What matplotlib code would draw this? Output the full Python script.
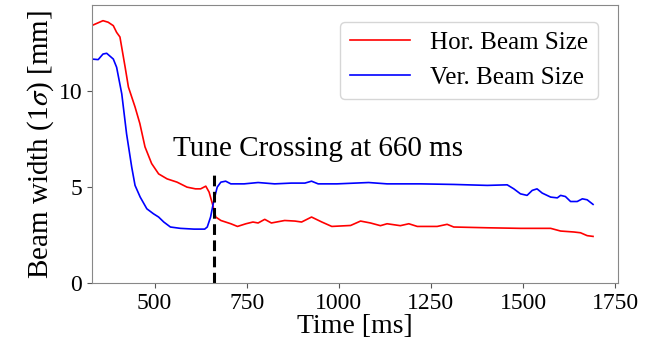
import numpy as np
import matplotlib.pyplot as plt

plt.rcParams['font.family'] = ['Liberation Serif', 'DejaVu Serif']
plt.rcParams['mathtext.fontset'] = 'stix'

# horizontal beam size (1 sigma) vs time
t_hor = [329, 360, 374, 388, 397, 406, 420, 429, 447, 460, 474, 492, 511, 534,
         561, 588, 611, 625, 639, 648, 657, 666, 680, 707, 725, 748, 767, 781,
         799, 817, 853, 881, 899, 926, 954, 981, 1032, 1059, 1086, 1113, 1131,
         1167, 1190, 1213, 1267, 1294, 1312, 1403, 1493, 1575, 1602, 1638,
         1656, 1674, 1690]
w_hor = [13.42, 13.68, 13.60, 13.42, 13.07, 12.83, 11.27, 10.22, 9.18, 8.32,
         7.10, 6.23, 5.69, 5.43, 5.26, 5.00, 4.91, 4.91, 5.05, 4.74, 4.13,
         3.44, 3.26, 3.09, 2.95, 3.09, 3.18, 3.13, 3.32, 3.13, 3.26, 3.23,
         3.18, 3.44, 3.18, 2.95, 3.00, 3.23, 3.13, 2.99, 3.09, 2.99, 3.09,
         2.95, 2.95, 3.06, 2.92, 2.88, 2.85, 2.85, 2.71, 2.66, 2.62, 2.47,
         2.43]

# vertical beam size
t_ver = [329, 347, 360, 370, 388, 397, 411, 424, 438, 447, 461, 479, 497, 511,
         525, 543, 570, 607, 636, 643, 652, 661, 670, 680, 693, 707, 743, 781,
         826, 871, 908, 926, 944, 995, 1081, 1131, 1222, 1312, 1403, 1457,
         1475, 1493, 1511, 1525, 1538, 1552, 1575, 1593, 1602, 1615, 1629,
         1647, 1661, 1674, 1690]
w_ver = [11.68, 11.65, 11.94, 11.98, 11.68, 11.25, 9.86, 7.78, 6.04, 5.09,
         4.48, 3.87, 3.61, 3.44, 3.18, 2.92, 2.85, 2.81, 2.81, 2.92, 3.44,
         4.31, 5.00, 5.26, 5.31, 5.17, 5.17, 5.24, 5.17, 5.21, 5.21, 5.31,
         5.17, 5.17, 5.24, 5.17, 5.17, 5.14, 5.09, 5.12, 4.91, 4.65, 4.57,
         4.83, 4.91, 4.69, 4.48, 4.44, 4.57, 4.51, 4.25, 4.25, 4.39, 4.34,
         4.10]

t_cross = 660

fig = plt.figure(figsize=(6.52, 3.42), dpi=100)
ax = fig.add_axes([0.141, 0.1725, 0.807, 0.813])

ax.plot(t_hor, w_hor, color='red', lw=1.2, label='Hor. Beam Size')
ax.plot(t_ver, w_ver, color='blue', lw=1.2, label='Ver. Beam Size')
ax.plot([t_cross, t_cross], [0, 5.85], 'k--', lw=2.2, dashes=(3.5, 1.8))
ax.text(550, 6.6, f'Tune Crossing at {t_cross} ms', fontsize=21)

ax.set_xlim(330, 1758)
ax.set_ylim(0, 14.5)
ax.set_xticks([500, 750, 1000, 1250, 1500, 1750])
ax.set_yticks([0, 5, 10])
ax.tick_params(labelsize=17, color='#555555')
for s in ax.spines.values():
    s.set_color('#888888')

ax.set_xlabel('Time [ms]', fontsize=20, labelpad=0)
ax.set_ylabel(r'Beam width (1$\sigma$) [mm]', fontsize=21, labelpad=2)
ax.legend(loc='upper right', fontsize=18, handlelength=2.4,
          bbox_to_anchor=(0.985, 0.985))

fig.savefig('out.png')
